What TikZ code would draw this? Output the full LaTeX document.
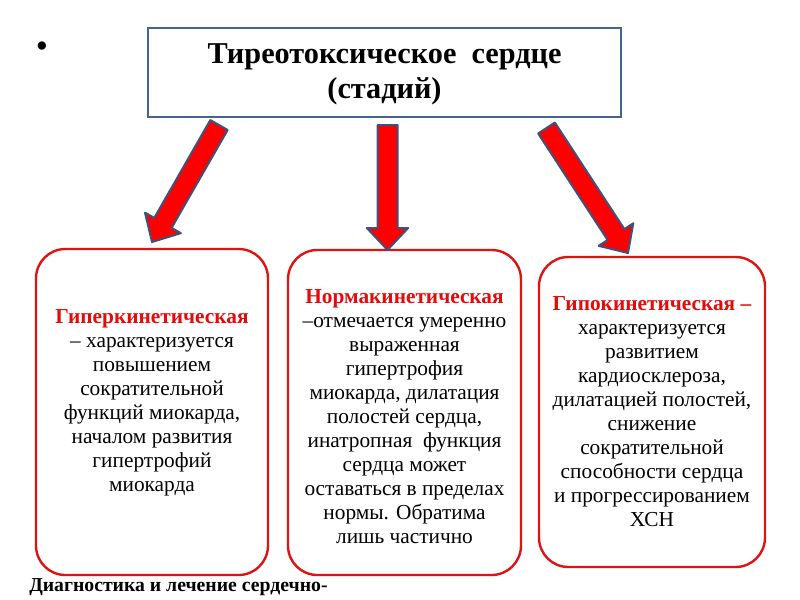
\documentclass[tikz,border=0pt]{standalone}
\usepackage{fontspec}
\setmainfont{Liberation Serif}
\usetikzlibrary{calc}
\definecolor{boxred}{RGB}{222,20,20}
\definecolor{headred}{RGB}{230,10,10}
\definecolor{titleblue}{RGB}{70,100,140}
\definecolor{arrline}{RGB}{62,82,122}
\definecolor{arrfill}{RGB}{255,0,0}
\tikzset{
  titlebox/.style={draw=titleblue, line width=1.8pt, fill=white, minimum width=354.75pt, minimum height=66.75pt, inner sep=0pt},
  stagebox/.style={draw=boxred, line width=1.8pt, rounded corners=22pt, fill=white, inner sep=0pt},
  stagetext/.style={align=center, font=\fontsize{16}{18}\selectfont, inner sep=0pt},
  blockarrow/.style={draw=arrline, fill=arrfill, line width=1.5pt, line join=round},
  head/.style={text=headred, font=\bfseries}
}
\newcommand{\blockarr}[2]{%
  \coordinate (#1c) at ($(#2)!16.5pt!(#1)$);
  \draw[blockarrow] ($(#1)!7.5pt!-90:(#1c)$) -- ($(#1c)!7.5pt!90:(#1)$) -- ($(#1c)!15.5pt!90:(#1)$)
    -- (#2) -- ($(#1c)!15.5pt!-90:(#1)$) -- ($(#1c)!7.5pt!-90:(#1)$) -- ($(#1)!7.5pt!90:(#1c)$) -- cycle;
}
\begin{document}
\begin{tikzpicture}[x=0.75pt, y=-0.75pt]
\useasboundingbox (0,0) rectangle (800,600);
% title
\node[titlebox] (title) at (384.5,72.5) {};
\node[align=center, font=\fontsize{22.7}{26}\selectfont\bfseries, inner sep=0pt] (titletext) at (384.5,74.5) {Тиреотоксическое\ \ сердце\\(стадий)};
% bullet
\node[font=\fontsize{26}{28}\selectfont, inner sep=0pt] (bullet) at (42,50) {•};
% boxes
\node[stagebox, minimum width=174pt, minimum height=244.5pt] (b1) at (152,412) {};
\node[stagebox, minimum width=174.75pt, minimum height=243.75pt] (b2) at (404.5,412.5) {};
\node[stagebox, minimum width=169.5pt, minimum height=232.5pt] (b3) at (652,412) {};
% texts
\node[stagetext] (t1) at (152,403) {{\color{headred}\bfseries Гиперкинетическая}\\– характеризуется\\повышением\\сократительной\\функций миокарда,\\началом развития\\гипертрофий\\миокарда};
\node[stagetext] (t2) at (404.5,417) {{\color{headred}\bfseries Нормакинетическая}\\–отмечается умеренно\\выраженная\\гипертрофия\\миокарда, дилатация\\полостей сердца,\\инатропная\ \ функция\\сердца может\\оставаться в пределах\\нормы. Обратима\\лишь частично};
\node[stagetext] (t3) at (652,412) {{\color{headred}\bfseries Гипокинетическая –}\\характеризуется\\развитием\\кардиосклероза,\\дилатацией полостей,\\снижение\\сократительной\\способности сердца\\и прогрессированием\\ХСН};
% arrows
\coordinate (a1s) at (219,125);
\coordinate (a1e) at (152,242);
\coordinate (a2s) at (387.5,125);
\coordinate (a2e) at (387.5,250);
\coordinate (a3s) at (546.5,128);
\coordinate (a3e) at (628,253);
\blockarr{a1s}{a1e}
\blockarr{a2s}{a2e}
\blockarr{a3s}{a3e}
% bottom text
\node[anchor=west, font=\fontsize{14.8}{17}\selectfont\bfseries, inner sep=0pt] (bottom) at (29,587) {Диагностика и лечение сердечно-};
\end{tikzpicture}
\end{document}
